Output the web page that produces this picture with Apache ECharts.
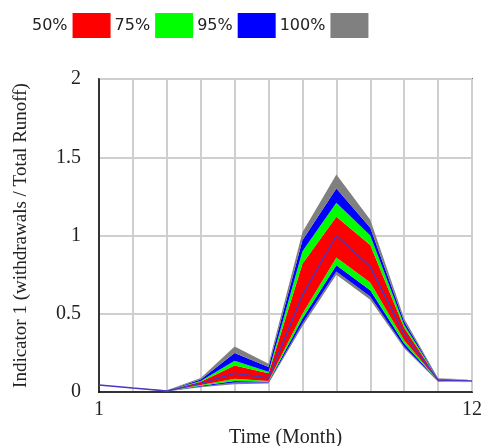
<!DOCTYPE html>
<html>
<head>
<meta charset="utf-8">
<script src="https://cdn.jsdelivr.net/npm/echarts@6/dist/echarts.min.js"></script>
<style>html,body{margin:0;padding:0;background:#fff}#c{width:481px;height:446px}</style>
</head>
<body>
<div id="c"></div>
<script>
var months  = ['1','2','3','4','5','6','7','8','9','10','11','12'];
var grayLo  = [0.045,0.025,0.003,0.030,0.050,0.055,0.42,0.75,0.59,0.28,0.065,0.060];
var blueLo  = [0.045,0.025,0.004,0.035,0.060,0.060,0.44,0.77,0.61,0.29,0.068,0.062];
var greenLo = [0.045,0.025,0.005,0.040,0.070,0.065,0.47,0.81,0.65,0.31,0.070,0.064];
var redLo   = [0.045,0.025,0.006,0.045,0.085,0.070,0.50,0.86,0.70,0.33,0.072,0.066];
var median  = [0.045,0.025,0.007,0.055,0.120,0.090,0.62,1.00,0.80,0.37,0.076,0.070];
var redHi   = [0.045,0.025,0.008,0.065,0.170,0.120,0.82,1.12,0.94,0.41,0.080,0.073];
var greenHi = [0.045,0.025,0.009,0.070,0.200,0.130,0.90,1.21,1.00,0.43,0.082,0.075];
var blueHi  = [0.045,0.025,0.010,0.080,0.250,0.160,0.97,1.30,1.05,0.45,0.085,0.077];
var grayHi  = [0.045,0.025,0.011,0.090,0.290,0.180,1.02,1.39,1.10,0.47,0.088,0.080];
var legendNames = ['50%','75%','95%','100%'];
var xTickLabels = ['1','','','','','','','','','','','12'];

var C = {'50%':'#ff0000','75%':'#00ff00','95%':'#0000ff','100%':'#808080'};

function diff(hi, lo){ return hi.map(function(v,i){ return +(v-lo[i]).toFixed(4); }); }
function band(name, hi, lo){
  return {name:name, type:'line', stack:'fan', data:diff(hi,lo), showSymbol:false, symbol:'none',
    color:C[name], lineStyle:{width:0, opacity:0}, areaStyle:{color:C[name], opacity:1}, z:2};
}
var series = [
  {name:'base', type:'line', stack:'fan', data:grayLo.slice(),
   showSymbol:false, symbol:'none', lineStyle:{width:0,opacity:0}, z:2},
  band('100%', blueLo, grayLo),
  band('95%', greenLo, blueLo),
  band('75%', redLo, greenLo),
  band('50%', redHi, redLo),
  band('75%', greenHi, redHi),
  band('95%', blueHi, greenHi),
  band('100%', grayHi, blueHi),
  {name:'median', type:'line', data:median.slice(),
   showSymbol:false, symbol:'none', lineStyle:{color:'#4a36c0', width:1.5}, z:3}
];
var chart = echarts.init(document.getElementById('c'), null, {renderer:'canvas'});
chart.setOption({
  animation:false,
  backgroundColor:'#fff',
  legend:{
    data:legendNames.map(function(n){return {name:n, itemStyle:{color:C[n]}};}),
    left:27, top:8, align:'right', itemWidth:38, itemHeight:25, itemGap:4,
    icon:'rect', textStyle:{fontFamily:'DejaVu Sans', fontSize:16, color:'#222'},
    selectedMode:false
  },
  grid:{left:99, right:9, top:79, bottom:54, containLabel:false, outerBoundsMode:'none',
    show:true, borderColor:'#000', borderWidth:1.5, backgroundColor:'transparent'},
  xAxis:{
    type:'category', data:months, boundaryGap:false,
    name:'Time (Month)', nameLocation:'middle', nameGap:36,
    nameTextStyle:{fontFamily:'Liberation Serif', fontSize:20, color:'#222'},
    axisLine:{show:true, lineStyle:{color:'#000', width:1.5}},
    axisTick:{show:false},
    axisLabel:{interval:0, formatter:function(v,i){return xTickLabels[i];}, fontFamily:'Liberation Serif', fontSize:20, color:'#222', margin:8},
    splitLine:{show:true, interval:0, lineStyle:{color:'#cfcfcf', width:2}}
  },
  yAxis:{
    type:'value', min:0, max:2, interval:0.5,
    name:'Indicator 1 (withdrawals / Total Runoff)', nameLocation:'middle', nameGap:68,
    nameTextStyle:{fontFamily:'Liberation Serif', fontSize:19, color:'#222'},
    axisLine:{show:true, lineStyle:{color:'#000', width:1.5}},
    axisTick:{show:false},
    axisLabel:{fontFamily:'Liberation Serif', fontSize:20, color:'#222', margin:18},
    splitLine:{show:true, lineStyle:{color:'#cfcfcf', width:2}}
  },
  series:series
});
</script>
</body>
</html>
